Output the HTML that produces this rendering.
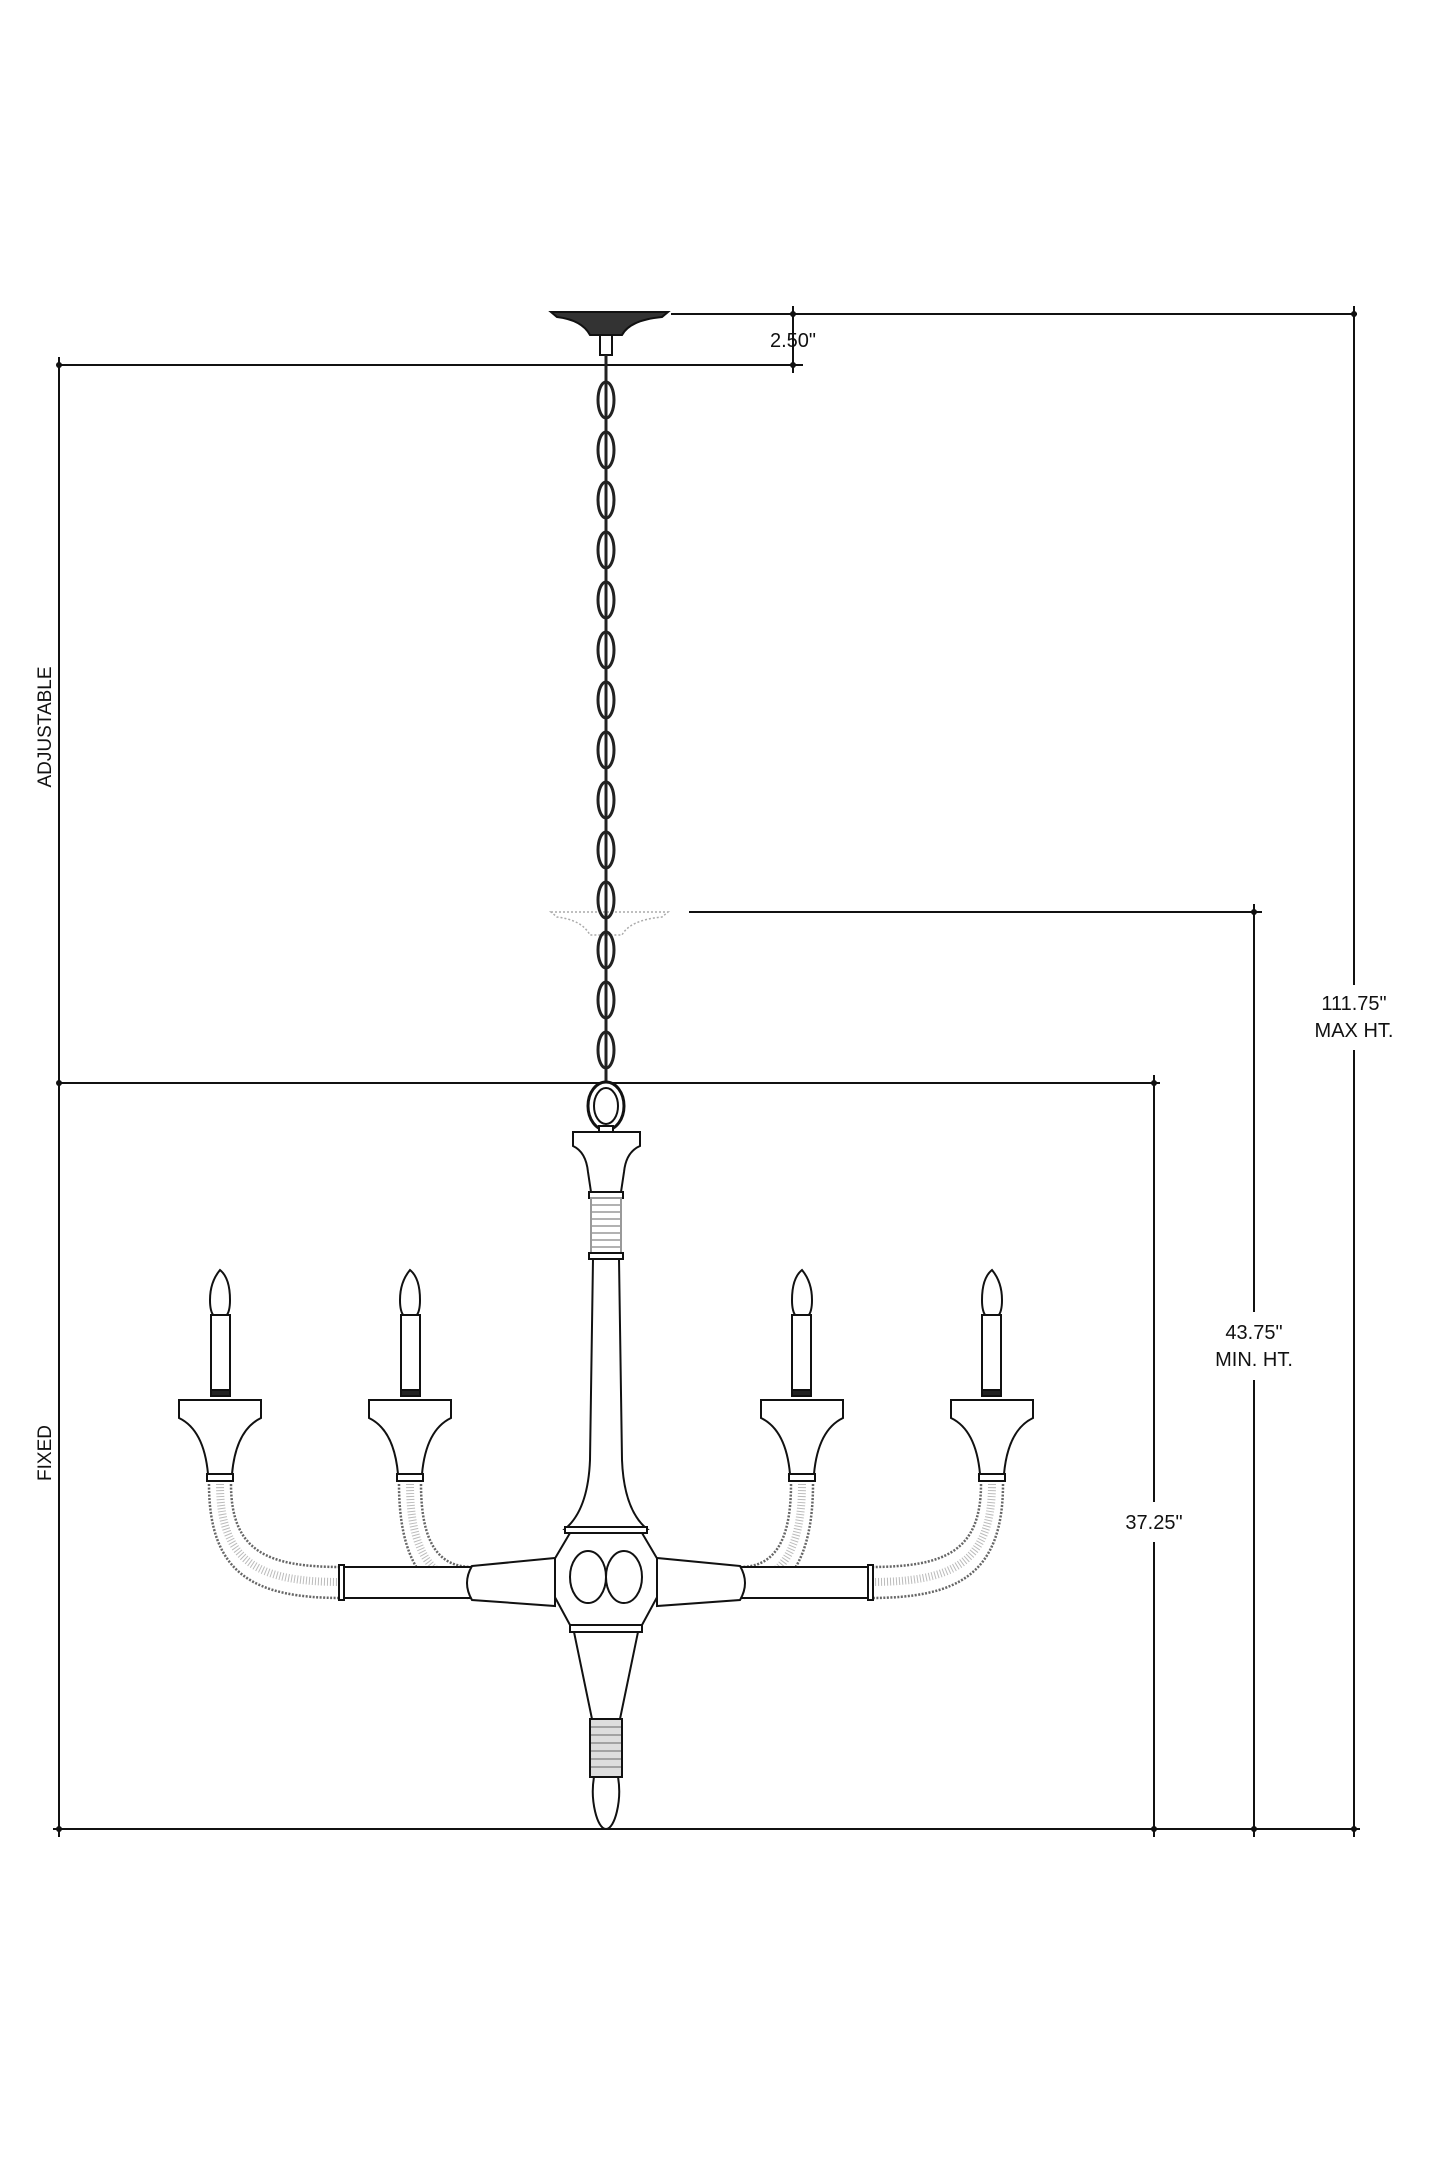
<!DOCTYPE html>
<html><head><meta charset="utf-8"><style>
html,body{margin:0;padding:0;background:#fff;}
svg{display:block}
text{font-family:"Liberation Sans",sans-serif;fill:#111}
</style></head><body>
<svg width="1445" height="2168" viewBox="0 0 1445 2168" xmlns="http://www.w3.org/2000/svg">
<g stroke="#111" stroke-width="2" fill="none">
  <line x1="671" y1="314" x2="1357" y2="314"/>
  <line x1="1354" y1="306" x2="1354" y2="985"/>
  <line x1="1354" y1="1050" x2="1354" y2="1837"/>
  <line x1="793" y1="306" x2="793" y2="373"/>
  <line x1="59" y1="365" x2="803" y2="365"/>
  <line x1="59" y1="357" x2="59" y2="1837"/>
  <line x1="689" y1="912" x2="1262" y2="912"/>
  <line x1="1254" y1="904" x2="1254" y2="1312"/>
  <line x1="1254" y1="1380" x2="1254" y2="1837"/>
  <line x1="59" y1="1083" x2="1160" y2="1083"/>
  <line x1="1154" y1="1075" x2="1154" y2="1502"/>
  <line x1="1154" y1="1542" x2="1154" y2="1837"/>
  <line x1="53" y1="1829" x2="1360" y2="1829"/>
</g>
<g fill="#111">
  <circle cx="793" cy="314" r="3"/><circle cx="793" cy="365" r="3"/><circle cx="1354" cy="314" r="3"/>
  <circle cx="59" cy="365" r="3"/><circle cx="1254" cy="912" r="3"/><circle cx="59" cy="1083" r="3"/>
  <circle cx="1154" cy="1083" r="3"/><circle cx="59" cy="1829" r="3"/><circle cx="1154" cy="1829" r="3"/>
  <circle cx="1254" cy="1829" r="3"/><circle cx="1354" cy="1829" r="3"/>
</g>
<text x="793" y="347" font-size="20" text-anchor="middle">2.50"</text>
<text x="1354" y="1010" font-size="20" text-anchor="middle">111.75"</text>
<text x="1354" y="1037" font-size="20" text-anchor="middle">MAX HT.</text>
<text x="1254" y="1339" font-size="20" text-anchor="middle">43.75"</text>
<text x="1254" y="1366" font-size="20" text-anchor="middle">MIN. HT.</text>
<text x="1154" y="1529" font-size="20" text-anchor="middle">37.25"</text>
<text transform="translate(51,727) rotate(-90)" font-size="19" text-anchor="middle">ADJUSTABLE</text>
<text transform="translate(51,1453) rotate(-90)" font-size="19" text-anchor="middle">FIXED</text>

<g stroke="#111" stroke-width="2">
  <path d="M551,312 L668,312 L662,317 Q630,320 622,335 L590,335 Q582,320 557,317 Z" fill="#333"/>
  <rect x="600" y="335" width="12" height="20" fill="#fff"/>
</g>
<g stroke="#aaa" stroke-width="1.5" fill="none" stroke-dasharray="2 2">
  <path d="M551,912 L668,912 L662,917 Q630,920 622,935 L590,935 Q582,920 557,917 Z"/>
</g>
<g stroke="#222" stroke-width="3" fill="none">
  <line x1="606" y1="355" x2="606" y2="1090"/>
  <ellipse cx="606" cy="400" rx="8" ry="18"/><ellipse cx="606" cy="450" rx="8" ry="18"/>
  <ellipse cx="606" cy="500" rx="8" ry="18"/><ellipse cx="606" cy="550" rx="8" ry="18"/>
  <ellipse cx="606" cy="600" rx="8" ry="18"/><ellipse cx="606" cy="650" rx="8" ry="18"/>
  <ellipse cx="606" cy="700" rx="8" ry="18"/><ellipse cx="606" cy="750" rx="8" ry="18"/>
  <ellipse cx="606" cy="800" rx="8" ry="18"/><ellipse cx="606" cy="850" rx="8" ry="18"/>
  <ellipse cx="606" cy="900" rx="8" ry="18"/><ellipse cx="606" cy="950" rx="8" ry="18"/>
  <ellipse cx="606" cy="1000" rx="8" ry="18"/><ellipse cx="606" cy="1050" rx="8" ry="18"/>
</g>
<g stroke="#111" stroke-width="2" fill="#fff">
  <ellipse cx="606" cy="1106" rx="18" ry="24" stroke-width="3"/>
  <ellipse cx="606" cy="1106" rx="12" ry="18"/>
  <rect x="599" y="1126" width="14" height="8"/>
  <path d="M573,1132 L640,1132 L640,1146 Q626,1152 624,1172 L621,1192 L591,1192 L588,1172 Q586,1152 573,1146 Z"/>
  <rect x="589" y="1192" width="34" height="6"/>
  <rect x="591" y="1198" width="30" height="55" stroke="#999"/>
  <rect x="589" y="1253" width="34" height="6"/>
  <path d="M593,1259 L590,1460 Q588,1510 565,1529 L647,1529 Q624,1510 622,1460 L619,1259 Z"/>
  <rect x="565" y="1527" width="82" height="6"/>
  <path d="M570,1533 L642,1533 L668,1577 L642,1625 L570,1625 L544,1577 Z"/>
  <ellipse cx="588" cy="1577" rx="18" ry="26"/>
  <ellipse cx="624" cy="1577" rx="18" ry="26"/>
  <rect x="570" y="1625" width="72" height="7"/>
  <path d="M574,1632 L638,1632 L620,1719 L592,1719 Z"/>
  <rect x="590" y="1719" width="32" height="58" fill="#ddd"/>
  <path d="M594,1777 C590,1800 597,1829 606,1829 C615,1829 622,1800 618,1777 Z"/>
</g>
<g stroke="#666" stroke-width="1">
  <line x1="592" y1="1205" x2="620" y2="1205"/><line x1="592" y1="1212" x2="620" y2="1212"/>
  <line x1="592" y1="1219" x2="620" y2="1219"/><line x1="592" y1="1226" x2="620" y2="1226"/>
  <line x1="592" y1="1233" x2="620" y2="1233"/><line x1="592" y1="1240" x2="620" y2="1240"/>
  <line x1="592" y1="1247" x2="620" y2="1247"/>
  <line x1="591" y1="1727" x2="621" y2="1727"/><line x1="591" y1="1735" x2="621" y2="1735"/>
  <line x1="591" y1="1743" x2="621" y2="1743"/><line x1="591" y1="1751" x2="621" y2="1751"/>
  <line x1="591" y1="1759" x2="621" y2="1759"/><line x1="591" y1="1767" x2="621" y2="1767"/>
</g>
<g id="arms">
  <g stroke="#666" stroke-width="2.5" fill="none" stroke-dasharray="2 1.5">
    <path d="M209,1484 C209,1575 255,1598 342,1598"/>
    <path d="M231,1484 C231,1552 268,1567 342,1567"/>
    <path d="M399,1484 C399,1560 425,1598 472,1598"/>
    <path d="M421,1484 C421,1545 440,1567 472,1567"/>
  </g>
  <g stroke="#bbb" stroke-width="8" fill="none" stroke-dasharray="1 2">
    <path d="M220,1484 C220,1565 262,1582 342,1582"/>
    <path d="M410,1484 C410,1552 432,1582 472,1582"/>
  </g>
  <g stroke="#111" stroke-width="2" fill="#fff">
    <rect x="342" y="1567" width="130" height="31"/>
    <rect x="339" y="1565" width="5" height="35"/>
    <path d="M472,1566 L555,1558 L555,1606 L472,1600 Q462,1583 472,1566 Z"/>
    <path d="M220,1270 Q230,1278 230,1300 Q230,1312 226,1316 L214,1316 Q210,1312 210,1300 Q210,1282 220,1270 Z"/>
    <rect x="211" y="1315" width="19" height="81"/>
    <rect x="211" y="1390" width="19" height="6" fill="#222"/>
    <path d="M179,1400 L261,1400 L261,1418 Q236,1430 232,1474 L208,1474 Q204,1430 179,1418 Z"/>
    <rect x="207" y="1474" width="26" height="7"/>
    <path d="M410,1270 Q420,1278 420,1300 Q420,1312 416,1316 L404,1316 Q400,1312 400,1300 Q400,1282 410,1270 Z"/>
    <rect x="401" y="1315" width="19" height="81"/>
    <rect x="401" y="1390" width="19" height="6" fill="#222"/>
    <path d="M369,1400 L451,1400 L451,1418 Q426,1430 422,1474 L398,1474 Q394,1430 369,1418 Z"/>
    <rect x="397" y="1474" width="26" height="7"/>
  </g>
</g>
<use href="#arms" transform="translate(1212,0) scale(-1,1)"/>
</svg>
</body></html>
